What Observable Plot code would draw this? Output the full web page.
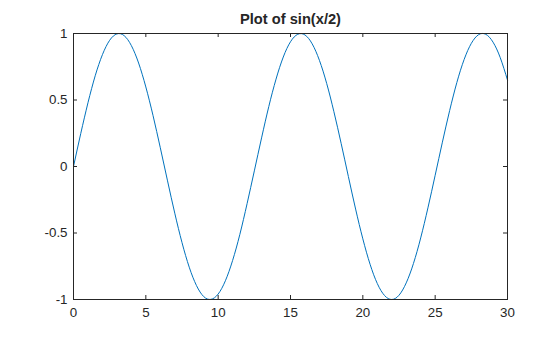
<!DOCTYPE html>
<html>
<head>
<meta charset="utf-8">
<script src="https://cdn.jsdelivr.net/npm/d3@7"></script>
<script src="https://cdn.jsdelivr.net/npm/@observablehq/plot@0.6"></script>
<style>
  html, body { margin: 0; padding: 0; background: #fff; }
  #chart { width: 560px; height: 337px; }
</style>
</head>
<body>
<div id="chart"></div>
<script>
const title = "Plot of sin(x/2)";
// x samples (step 0.5) and values
const xs = [0,0.5,1,1.5,2,2.5,3,3.5,4,4.5,5,5.5,6,6.5,7,7.5,8,8.5,9,9.5,10,10.5,11,11.5,12,12.5,13,13.5,14,14.5,15,15.5,16,16.5,17,17.5,18,18.5,19,19.5,20,20.5,21,21.5,22,22.5,23,23.5,24,24.5,25,25.5,26,26.5,27,27.5,28,28.5,29,29.5,30];
const ys = [0,0.247,0.479,0.682,0.841,0.949,0.997,0.984,0.909,0.778,0.598,0.382,0.141,-0.108,-0.351,-0.572,-0.757,-0.895,-0.978,-0.999,-0.959,-0.859,-0.706,-0.510,-0.279,-0.033,0.215,0.451,0.657,0.823,0.938,0.994,0.989,0.922,0.798,0.625,0.412,0.174,-0.075,-0.320,-0.544,-0.735,-0.880,-0.970,-1.000,-0.968,-0.875,-0.729,-0.537,-0.311,-0.066,0.183,0.420,0.632,0.804,0.926,0.991,0.994,0.935,0.818,0.650];
const xTicks = [0,5,10,15,20,25,30];
const yTicks = [-1,-0.5,0,0.5,1];
const xMin = 0, xMax = 30, yMin = -1, yMax = 1;

const data = xs.map((x, i) => ({x, y: ys[i]}));
const ink = "#262626";
const fs = 13.33;

const chart = Plot.plot({
  width: 560,
  height: 337,
  marginLeft: 73,
  marginRight: 53,
  marginTop: 33,
  marginBottom: 38,
  style: {fontFamily: "'Liberation Sans', Arial, sans-serif", fontSize: "13.33px", color: ink, background: "#fff"},
  x: {domain: [xMin, xMax]},
  y: {domain: [yMin, yMax]},
  marks: [
    Plot.line(data, {x: "x", y: "y", stroke: "#0072BD", strokeWidth: 1, curve: "natural"}),
    // inward tick marks on all four sides
    Plot.ruleX(xTicks, {x: d => d, y1: yMin, y2: yMin, insetTop: -4, stroke: ink}),
    Plot.ruleX(xTicks, {x: d => d, y1: yMax, y2: yMax, insetBottom: -4, stroke: ink}),
    Plot.ruleY(yTicks, {y: d => d, x1: xMin, x2: xMin, insetRight: -4, stroke: ink}),
    Plot.ruleY(yTicks, {y: d => d, x1: xMax, x2: xMax, insetLeft: -4, stroke: ink}),
    Plot.frame({stroke: ink, strokeWidth: 1}),
    Plot.axisX({ticks: xTicks, anchor: "bottom", tickSize: 0, tickPadding: 8, fontSize: fs, fill: ink, label: null, tickFormat: d => String(d)}),
    Plot.axisY({ticks: yTicks, anchor: "left", tickSize: 0, tickPadding: 6, fontSize: fs, fill: ink, label: null, tickFormat: d => String(d)}),
    Plot.text([title], {frameAnchor: "top", dy: -10, lineAnchor: "bottom", text: d => d, fontWeight: "bold", fontSize: 14.67, fill: ink})
  ]
});
document.getElementById("chart").appendChild(chart);
</script>
</body>
</html>
